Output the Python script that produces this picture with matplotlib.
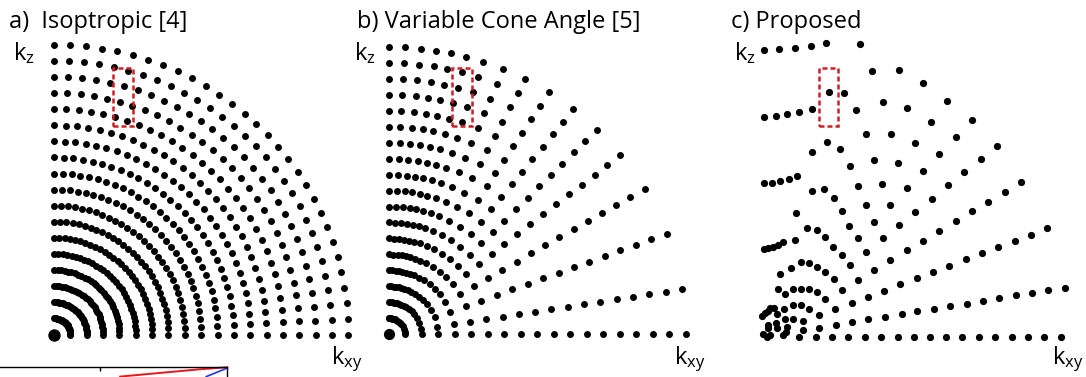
import numpy as np
import matplotlib.pyplot as plt
from matplotlib.patches import Rectangle

plt.rcParams['font.family'] = ['Open Sans', 'DejaVu Sans']

W, H = 1086, 377

# a) isotropic: every shell carries the same set of cone angles
iso_shells = [1, 2, 3, 4, 5, 6, 7, 8, 9, 10, 11, 12, 13, 14, 15, 16, 17, 18]
iso_cones = 30

# b) variable cone angle: same shells, fewer cones, denser near kz (deg)
vca_shells = [1, 2, 3, 4, 5, 6, 7, 8, 9, 10, 11, 12, 13, 14, 15, 16, 17, 18]
vca_angles = [0, 9.0, 20.5, 30.4, 38.7, 45.4, 51.5, 57.3, 62.6, 67.3,
              71.4, 74.8, 77.9, 80.7, 83.7, 86.8, 90]

# c) proposed: samples (kxy, kz)
prop_kxy = [0.02, 0.94, 1.90, 2.87, 3.80, 5.91, 6.64, 8.28,
            3.99, 4.89, 7.28, 8.79, 9.77,
            0.02, 0.72, 1.43, 2.17, 2.93, 5.66,
            6.28, 7.77, 9.25, 3.88, 2.96, 4.66, 6.77, 8.24, 5.28,
            0.00, 0.49, 0.98, 1.52, 2.04,
            2.93, 3.68, 5.77, 7.24, 8.75,
            11.25, 10.23, 12.76, 11.76, 14.29, 10.75, 13.31, 9.77, 12.29, 11.29, 15.77, 14.77,
            4.28, 1.96, 4.80, 6.24, 7.75, 9.28,
            2.66, 3.25, 5.23, 6.75, 8.28,
            0.00, 0.26, 0.57, 0.88, 1.18, 1.90,
            3.76, 5.75, 7.28, 4.25, 6.28, 8.75,
            4.77, 7.75, 2.27, 2.78, 1.66, 3.23, 3.74, 5.28, 6.75, 0.96, 4.29, 9.37, 8.36, 5.75,
            0.88, 1.29, 1.80, 2.27, 2.76, 3.27, 4.77, 7.38, 3.74, 6.36, 5.38,
            1.76, 2.29, 2.76, 0.63, 1.25, 4.36, 8.45, 9.40, 7.42, 6.40, 3.36, 0.78,
            1.29, 1.76, 5.40, 2.37, 4.42, 3.39, 2.41,
            -0.10, 0.08, 0.23, 0.37, 0.23, 0.26, 0.74, 0.78, 1.39, 1.33, -0.04, 0.17, 0.37, 1.18,
            2.17, 3.19, 4.19, 5.17, 6.20, 7.18, 8.20, 9.22, 10.18, 11.17, 12.17, 13.19,
            14.19, 15.20, 16.20, 17.20, 18.20,
            10.29, 13.76, 12.78, 11.76, 10.75, 9.77,
            17.38, 16.38, 15.38, 14.37, 13.37, 12.37, 11.37, 10.39,
            18.45, 17.44, 16.42, 15.44, 14.44, 13.42, 12.44, 11.41, 10.41]
prop_kz = [17.59, 17.63, 17.71, 17.85, 18.04, 17.94, 16.32, 16.36,
           15.01, 14.95, 14.40, 14.01, 15.58,
           13.50, 13.54, 13.64, 13.79, 13.97, 13.91,
           12.44, 12.42, 11.90, 11.93, 11.31, 11.50, 10.84, 10.64, 10.47,
           9.41, 9.45, 9.55, 9.69, 9.88,
           8.94, 9.06, 9.26, 9.37, 9.14,
           14.48, 13.19, 13.28, 12.23, 11.72, 11.19, 10.92, 10.15, 10.09, 9.29, 9.47, 8.88,
           8.53, 7.57, 7.69, 8.06, 8.08, 7.63,
           6.65, 6.56, 6.81, 7.06, 6.83,
           5.36, 5.42, 5.52, 5.64, 5.81, 5.93,
           6.10, 6.04, 6.04, 5.50, 5.20, 5.30,
           4.99, 4.69, 4.60, 4.52, 4.21, 4.28, 3.95, 4.38, 4.07, 3.87, 3.54, 3.62, 3.21, 3.48,
           2.91, 2.64, 2.91, 2.94, 2.91, 2.74, 2.88, 2.82, 2.29, 2.45, 2.07,
           1.93, 1.94, 1.68, 1.78, 1.68, 1.70, 1.41, 1.58, 1.23, 1.07, 1.33, 1.37,
           1.10, 1.09, 0.92, 0.94, 0.72, 0.55, 0.41,
           1.29, 1.44, 1.60, 1.78, 0.72, 0.52, 0.86, 0.52, 0.61, 0.31, 0.17, 0.00, 0.10, 0.10,
           0, 0, 0, 0, 0, 0, 0, 0, 0, 0, 0, 0,
           0, 0, 0, 0, 0,
           8.45, 8.28, 7.69, 7.08, 6.48, 5.89,
           6.65, 6.26, 5.87, 5.50, 5.12, 4.75, 4.36, 3.97,
           3.01, 2.85, 2.70, 2.54, 2.36, 2.19, 2.02, 1.87, 1.70]

# piece of the neighbouring figure showing at the bottom-left edge
edge_red_x = [0.53, 0.88, 1.0]
edge_red_y = [0.03, 0.79, 1.0]
edge_blue_x = [0.91, 1.0]
edge_blue_y = [0.03, 0.9]

fig = plt.figure(figsize=(W / 100, H / 100), dpi=100)


def panel(x0, y0, sx, sy):
    # origin at pixel (x0, y0) from top-left, sx/sy pixels per k unit
    xlim, ylim = (-2, 20), (-2, 20)
    ax = fig.add_axes([(x0 + xlim[0] * sx) / W, (H - y0 + ylim[0] * sy) / H,
                       (xlim[1] - xlim[0]) * sx / W, (ylim[1] - ylim[0]) * sy / H])
    ax.set_xlim(xlim)
    ax.set_ylim(ylim)
    ax.axis('off')
    return ax


def ftext(x, y, s, **kw):
    fig.text(x / W, 1 - y / H, s, va='baseline', **kw)


def box(ax, x, y, w, h):
    ax.add_patch(Rectangle((x, y), w, h, fill=False, ec='#cf1f26', lw=1.8,
                           ls=(0, (2.0, 1.2)), zorder=3))


dot = 25

# a)
ax_a = panel(54, 334.5, 16.35, 16.1)
t = np.radians(np.linspace(0, 90, iso_cones))
r = np.repeat(iso_shells, iso_cones)
tt = np.tile(t, len(iso_shells))
ax_a.scatter(r * np.cos(tt), r * np.sin(tt), s=dot, c='k', lw=0)
ax_a.scatter([0], [0], s=80, c='k', lw=0)
box(ax_a, 3.63, 12.95, 1.22, 3.62)

# b)
ax_b = panel(388.5, 334.2, 16.5, 15.96)
t = np.radians(vca_angles)
r = np.repeat(vca_shells, len(vca_angles))
tt = np.tile(t, len(vca_shells))
ax_b.scatter(r * np.cos(tt), r * np.sin(tt), s=dot, c='k', lw=0)
ax_b.scatter([0], [0], s=65, c='k', lw=0)
box(ax_b, 3.87, 13.05, 1.21, 3.65)

# c)
ax_c = panel(764, 336.7, 16.3, 16.3)
ax_c.scatter(prop_kxy, prop_kz, s=27, c='k', lw=0)
box(ax_c, 3.37, 12.93, 1.19, 3.57)

fs = 17
ftext(9, 28.3, 'a)  Isoptropic [4]', fontsize=fs)
ftext(357, 28.3, 'b) Variable Cone Angle [5]', fontsize=fs)
ftext(731, 28.3, 'c) Proposed', fontsize=fs)

for x in (13, 354, 734):
    ftext(x, 60, r'$\mathregular{k_z}$', fontsize=fs)
for x in (331, 674, 1052):
    ftext(x, 364.5, r'$\mathregular{k_{xy}}$', fontsize=fs)

# edge of the next figure
ax_e = fig.add_axes([0, -0.02, 226.7 / W, (377 - 367.3) / H + 0.02])
ax_e.set_xlim(0, 1)
ax_e.set_ylim(-0.8, 1)
ax_e.plot(edge_red_x, edge_red_y, color='#e8171f', lw=1.4, clip_on=False)
ax_e.plot(edge_blue_x, edge_blue_y, color='#1f33e8', lw=1.2, clip_on=False)
for side in ('left', 'bottom'):
    ax_e.spines[side].set_visible(False)
for side in ('top', 'right'):
    ax_e.spines[side].set_linewidth(1.0)
ax_e.set_yticks([])
ax_e.xaxis.tick_top()
ax_e.set_xticks([0.44])
ax_e.set_xticklabels([])
ax_e.tick_params(axis='x', direction='in', length=3, width=1)
ax_e.patch.set_visible(False)

fig.savefig('out.png', dpi=100)
